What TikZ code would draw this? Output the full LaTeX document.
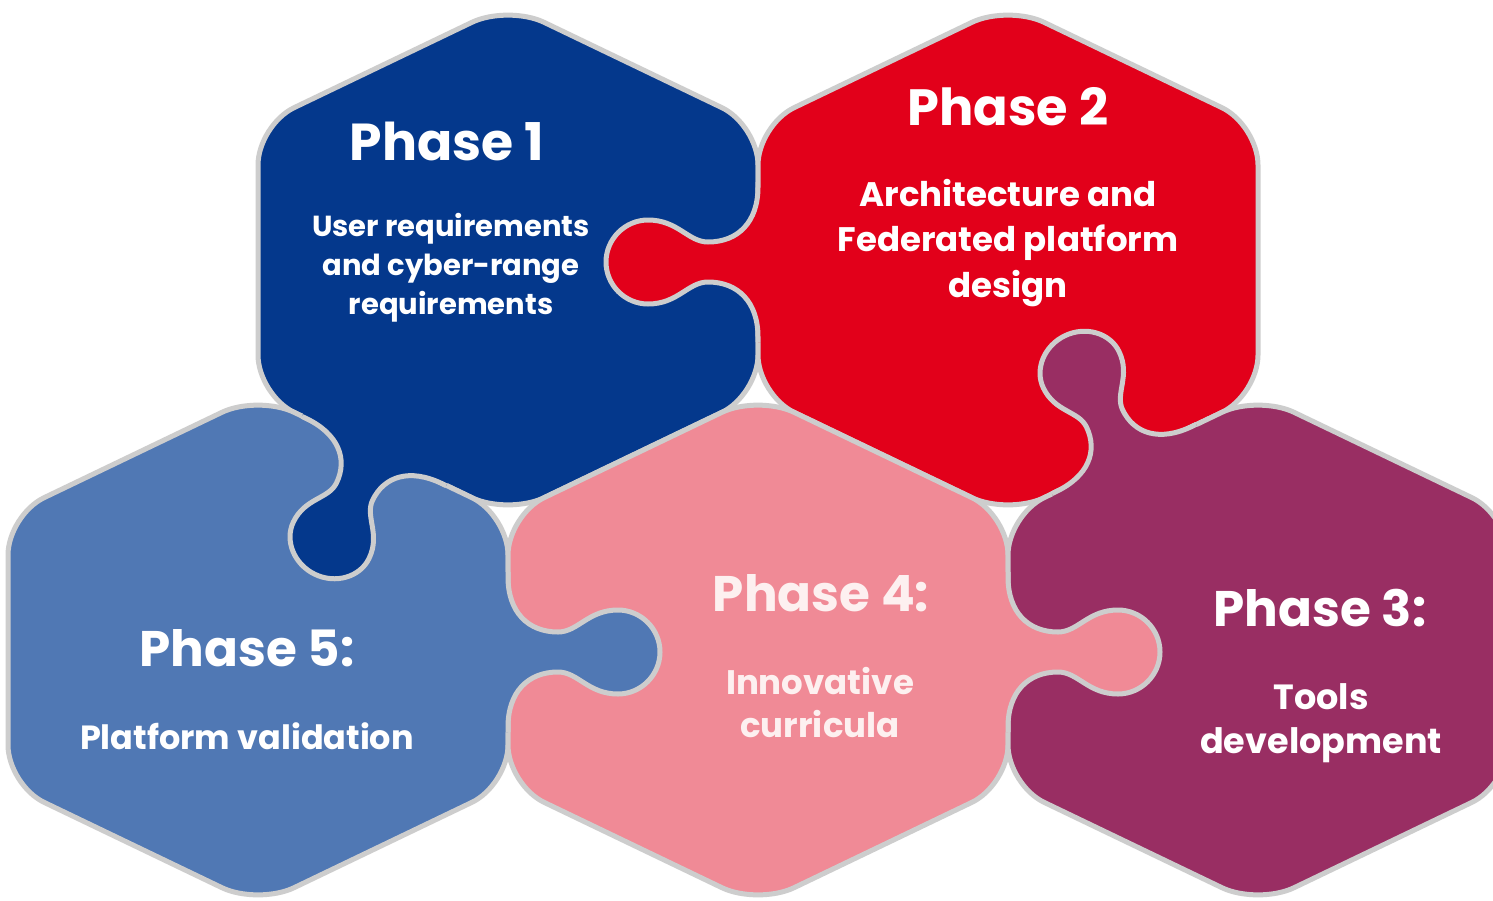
\documentclass[tikz,border=0pt]{standalone}
\usepackage{fontspec}
\setmainfont{Poppins}
\definecolor{edgegray}{RGB}{205,205,205}
\definecolor{cPa}{RGB}{4,56,140}
\definecolor{cPb}{RGB}{226,0,26}
\definecolor{cPc}{RGB}{153,46,99}
\definecolor{cPd}{RGB}{240,138,150}
\definecolor{cPe}{RGB}{80,120,180}
\definecolor{txtd}{RGB}{253,240,240}
\newcommand\hexpiece[3]{\path[piece, fill=#1] (#2+250,#3) -- (#2+250,#3+135) -- (#2,#3+255) -- (#2-250,#3+135) -- (#2-250,#3-135) -- (#2,#3-255) -- (#2+250,#3-135) -- cycle;}
\newcommand\tabbody{(-80,-8) -- (-80,0) -- (-75,0) .. controls (-40,0) and (-20,20) .. (-20,50) .. controls (-20,70) and (-42,80) .. (-42,110) .. controls (-42,133) and (-23,152) .. (0,152) .. controls (23,152) and (42,133) .. (42,110) .. controls (42,80) and (20,70) .. (20,50) .. controls (20,20) and (40,0) .. (75,0) -- (80,0) -- (80,-8) -- cycle}
\newcommand\tabrim{(-80,0) -- (-75,0) .. controls (-40,0) and (-20,20) .. (-20,50) .. controls (-20,70) and (-42,80) .. (-42,110) .. controls (-42,133) and (-23,152) .. (0,152) .. controls (23,152) and (42,133) .. (42,110) .. controls (42,80) and (20,70) .. (20,50) .. controls (20,20) and (40,0) .. (75,0) -- (80,0)}
\newcommand\puzzletab[4]{\begin{scope}[shift={#2}, x={#3}, y={#4}]
  \fill[#1] \tabbody;
  \path[rim] \tabrim;
\end{scope}}
\begin{document}
\begin{tikzpicture}[x=1pt,y=-1pt,
  piece/.style={draw=edgegray, line width=5pt, rounded corners=40pt},
  rim/.style={draw=edgegray, line width=5pt, line join=round},
  title/.style={text=white, font=\fontsize{50}{56}\selectfont\bfseries, inner sep=0pt},
  body/.style={text=white, align=center, inner sep=0pt}]
\useasboundingbox (0,0) rectangle (1493,900);
\fill[white] (0,0) rectangle (1493,900);
% hexagonal pieces
\hexpiece{cPa}{508}{260}
\hexpiece{cPb}{1008}{260}
\hexpiece{cPe}{258}{650}
\hexpiece{cPd}{758}{650}
\hexpiece{cPc}{1258}{650}
% tabs
\puzzletab{cPb}{(758,262)}{(0pt,-1pt)}{(-1pt,0pt)}
\puzzletab{cPe}{(508,652)}{(0pt,-1pt)}{(1pt,0pt)}
\puzzletab{cPd}{(1008,652)}{(0pt,-1pt)}{(1pt,0pt)}
\puzzletab{cPa}{(374,451)}{(0.9015pt,-0.4327pt)}{(-0.389pt,-0.811pt)}
\puzzletab{cPc}{(1124,459)}{(0.9015pt,0.4327pt)}{(-0.389pt,0.811pt)}
% texts
\node[title, font=\fontsize{52}{56}\selectfont\bfseries] (t1) at (447,141) {Phase 1};
\node[body, font=\fontsize{29}{39}\selectfont\bfseries] (b1) at (451,268) {User requirements\\and cyber-range\\requirements};
\node[title, font=\fontsize{51}{56}\selectfont\bfseries] (t2) at (1008,107) {Phase 2};
\node[body, font=\fontsize{34}{45.5}\selectfont\bfseries] (b2) at (1008,243) {Architecture and\\Federated platform\\design};
\node[title] (t5) at (247,648) {Phase 5:};
\node[body, font=\fontsize{33.5}{44}\selectfont\bfseries] (b5) at (247,736) {Platform validation};
\node[title, text=txtd] (t4) at (821,593) {Phase 4:};
\node[body, text=txtd, font=\fontsize{34}{43}\selectfont\bfseries] (b4) at (820,703) {Innovative\\curricula};
\node[title] (t3) at (1320,608) {Phase 3:};
\node[body, font=\fontsize{35}{44}\selectfont\bfseries] (b3) at (1321,723) {Tools\\development};
\end{tikzpicture}
\end{document}
